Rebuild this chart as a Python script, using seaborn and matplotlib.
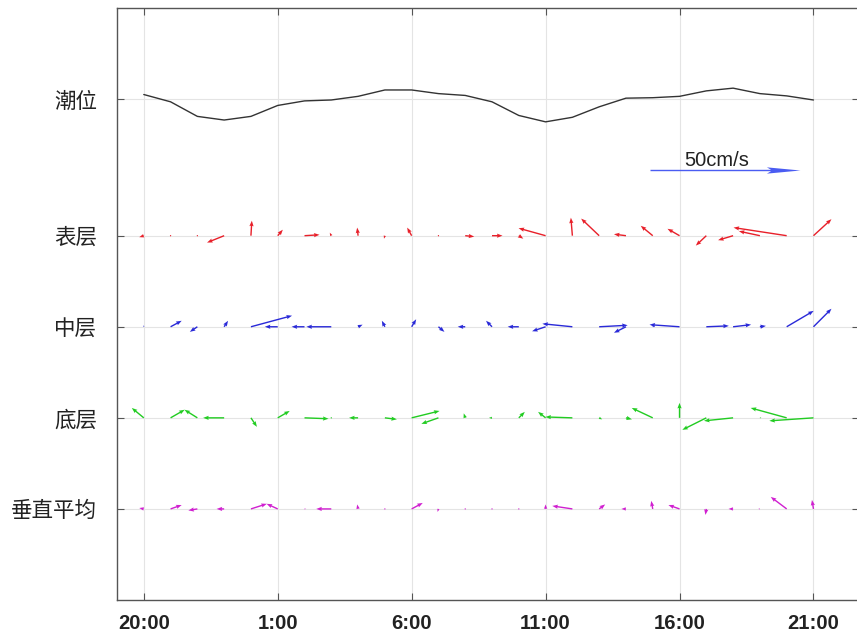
import numpy as np
import pandas as pd
import seaborn as sns
import matplotlib.pyplot as plt

# hours after 20:00
hours = list(range(26))
tick_hours = [0, 5, 10, 15, 20, 25]
tick_labels = ["20:00", "1:00", "6:00", "11:00", "16:00", "21:00"]

layer_names = ["潮位", "表层", "中层", "底层", "垂直平均"]
layer_y = [5.5, 4, 3, 2, 1]

# tide level offset around the 潮位 line
tide = [0.05, -0.03, -0.19, -0.23, -0.19, -0.07, -0.02, -0.01, 0.03, 0.10,
        0.10, 0.06, 0.04, -0.03, -0.18, -0.25, -0.20, -0.085, 0.01, 0.015,
        0.03, 0.09, 0.12, 0.06, 0.035, -0.01]

# current components (cm/s): east u, north v
surf_u = [-1.5, 0.3, 0.3, -5.7, 0.3, 1.7, 5, -0.5, -0.3, -0.3, -1.5, 0.3, 3,
          3.5, 1.5, -9, -0.5, -6, -4, -4, -4, -3.5, -5, -7, -17.7, 6]
surf_v = [-0.5, 0, 0, -2.3, 5, 2, 0.3, 1, 2.7, -1, 2.7, 0, -0.3,
          0, -1, 2.5, 6, 5.7, 0.5, 3.3, 2.3, -3.3, -1.5, 1.5, 2.7, 5.5]

mid_u = [0, 3.7, -2.5, 1.3, 13.7, -4.3, -4.3, -8.3, 1.5, -1, 1.5, 2, -2.5,
         -2, -3.7, -4.5, -10, 9.5, -4, 0.5, -10, 7.5, 6, 2, 9, 6]
mid_v = [0.5, 2, -1.7, 2, 3.7, 0, 0, 0, 0.7, 2, 2.5, -1.7, 0,
         2, 0, -1.5, 1, 0.5, -2, 0.3, 0.7, 0.3, 0.7, 0.3, 5.3, 6]

bot_u = [-4, 4.7, -4.3, -7, 2, 4, 8, 0.3, -3, 4, 9.3, -5.7, -0.5,
         -1, 2, -2.5, -9, 1, 2, -7, 0, -8, -9.7, 0.5, -12, -14.7]
bot_v = [3.3, 2.7, 2.7, 0, -3, 2.3, -0.3, 0, 0, -0.5, 2.3, -2, 1.5,
         0, 2, 2, 0.3, -0.5, -0.5, 3.3, 5, -4, -1, 0, 3.3, -1]

avg_u = [-1.5, 3.7, -3, -2.5, 5.3, -3.7, 0.5, -5, -0.3, 0.3, 3.7, -0.3, 0.3,
         0.3, 0.3, 0, -6.7, 2, -1.5, -0.5, -3.7, -0.3, -1.5, -0.5, -5.3, -0.5]
avg_v = [0.3, 1.3, -0.5, 0, 1.7, 1.7, 0, 0, 1.5, 0, 2, -1, 0,
         0, 0, 1.5, 1, 1.5, 0, 2.7, 1.3, -2, 0, 0, 4, 3]

sns.set_style("whitegrid")
plt.rcParams['font.family'] = ['Noto Sans CJK SC', 'DejaVu Sans']

fig = plt.figure(figsize=(8.57, 6.42), dpi=100)
ax = fig.add_axes([117 / 857, 42 / 642, (859 - 117) / 857, (600 - 8) / 642])

tide_df = pd.DataFrame({"hour": hours, "level": np.array(tide) + layer_y[0]})
sns.lineplot(data=tide_df, x="hour", y="level", color="#333333", linewidth=1.0, ax=ax)

# 3 px per cm/s at 100 dpi
qkw = dict(angles="uv", scale_units="inches", scale=1 / 0.03, units="dots",
           width=1.4, zorder=3)
layers = [(surf_u, surf_v, "#e8202a"), (mid_u, mid_v, "#2a2ad8"),
          (bot_u, bot_v, "#22cc22"), (avg_u, avg_v, "#d020d0")]
for (u, v, c), y in zip(layers, layer_y[1:]):
    ax.quiver(hours, [y] * len(hours), u, v, color=c,
              headwidth=3, headlength=4, headaxislength=3.6, **qkw)

# reference arrow
ax.quiver([18.9], [4.72], [50], [0], color="#4a5cf2",
          headwidth=4.5, headlength=24, headaxislength=21, **qkw)
ax.text(21.4, 4.77, "50cm/s", ha="center", va="baseline", fontsize=14.5,
        family="Liberation Sans", color="#222222")

ax.set_xlim(-1, 26.7)
ax.set_ylim(0, 6.5)
ax.set_xticks(tick_hours)
ax.set_xticklabels(tick_labels, family="Liberation Sans", fontweight="bold", fontsize=14.6)
ax.set_yticks(layer_y)
ax.set_yticklabels(layer_names, fontsize=15.5)
ax.set_xlabel("")
ax.set_ylabel("")
ax.grid(True, color="#e4e4e4", linewidth=0.8)
for s in ax.spines.values():
    s.set_color("#555555")
    s.set_linewidth(1.0)
ax.tick_params(direction="in", length=5, width=0.8, color="#555555",
               right=True, left=True, bottom=True, top=True, labelcolor="#222222")
ax.tick_params(axis="x", pad=10)
ax.tick_params(axis="y", pad=14.5)

fig.savefig("out.png", dpi=100)
